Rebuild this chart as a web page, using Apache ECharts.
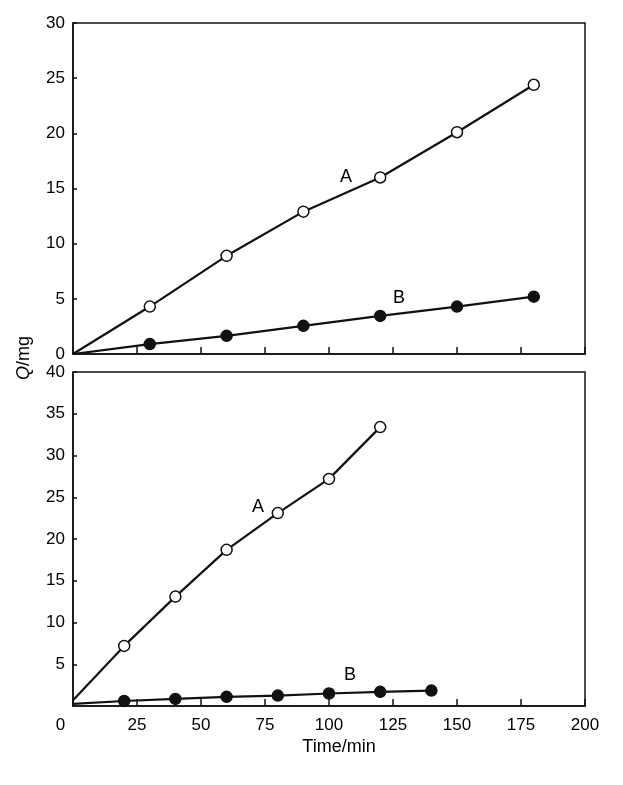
<!DOCTYPE html>
<html><head><meta charset="utf-8">
<script src="https://cdn.jsdelivr.net/npm/echarts@6/dist/echarts.min.js"></script>
<style>html,body{margin:0;padding:0;background:#fff}#c{width:623px;height:785px}</style>
</head><body><div id="c"></div>
<script>
// Top panel data
const topTime = [0, 30, 60, 90, 120, 150, 180];
const topA = [0, 4.3, 8.9, 12.9, 16.0, 20.1, 24.4];
const topB = [0, 0.9, 1.65, 2.55, 3.45, 4.3, 5.2];
// Bottom panel data
const botTimeA = [0, 20, 40, 60, 80, 100, 120];
const botA = [0.7, 7.2, 13.1, 18.7, 23.1, 27.2, 33.4];
const botTimeB = [0, 20, 40, 60, 80, 100, 120, 140];
const botB = [0.25, 0.6, 0.85, 1.1, 1.25, 1.5, 1.7, 1.85];
// Tick labels
const xTicks = [0, 25, 50, 75, 100, 125, 150, 175, 200];
const seriesNames = ['A', 'B'];

const FONT = 'Liberation Sans, Arial, sans-serif';
const INK = '#111';

function pts(xs, ys) {
  return xs.map((x, i) => (x === 0 ? { value: [x, ys[i]], symbol: 'none' } : [x, ys[i]]));
}
function lineSeries(name, xs, ys, open, gi) {
  return {
    name: name, type: 'line', xAxisIndex: gi, yAxisIndex: gi,
    data: pts(xs, ys),
    symbol: 'circle', symbolSize: 11,
    lineStyle: { color: INK, width: 2.2 },
    itemStyle: { color: open ? '#fff' : INK, borderColor: INK, borderWidth: 1.5 },
    z: open ? 3 : 4, animation: false
  };
}
function tag(text, x, y, gi) {
  return {
    type: 'scatter', xAxisIndex: gi, yAxisIndex: gi, symbolSize: 0,
    data: [[x, y]], silent: true, animation: false,
    itemStyle: { opacity: 1 },
    label: { show: true, position: 'inside', formatter: text, color: '#000',
      fontFamily: FONT, fontSize: 18, opacity: 1 }
  };
}
const xBase = {
  type: 'value', min: xTicks[0], max: xTicks[xTicks.length - 1], interval: 25,
  axisLine: { lineStyle: { color: INK, width: 1.5 } },
  axisTick: { inside: true, length: 7, lineStyle: { color: INK, width: 1.5 } },
  splitLine: { show: false }
};
const yBase = {
  type: 'value', interval: 5,
  axisLine: { show: true, lineStyle: { color: INK, width: 1.5 } },
  axisTick: { show: true, inside: true, length: 4, lineStyle: { color: INK, width: 1.5 } },
  splitLine: { show: false },
  axisLabel: { color: '#000', fontFamily: FONT, fontSize: 17, margin: 8 }
};

const chart = echarts.init(document.getElementById('c'));
chart.setOption({
  backgroundColor: '#fff',
  animation: false,
  grid: [
    { left: 73, right: 38, top: 23, height: 331, show: true, borderColor: INK, borderWidth: 1.5, containLabel: false },
    { left: 73, right: 38, top: 372, height: 334, show: true, borderColor: INK, borderWidth: 1.5, containLabel: false }
  ],
  xAxis: [
    Object.assign({}, xBase, { gridIndex: 0, axisLabel: { show: false } }),
    Object.assign({}, xBase, { gridIndex: 1,
      axisLabel: { color: '#000', fontFamily: FONT, fontSize: 17, margin: 11,
        formatter: v => (v === 0 ? '{z|0}' : String(v)),
        rich: { z: { fontFamily: FONT, fontSize: 17, color: '#000', padding: [0, 25, 0, 0] } } } })
  ],
  yAxis: [
    Object.assign({}, yBase, { gridIndex: 0, min: 0, max: 30 }),
    Object.assign({}, yBase, { gridIndex: 1, min: 0, max: 40,
      axisLabel: Object.assign({}, yBase.axisLabel, { showMinLabel: false }) })
  ],
  graphic: [
    { type: 'text', x: 24, y: 358, rotation: Math.PI / 2,
      style: { text: '{q|Q}/mg', fill: '#000', font: '18px ' + FONT, align: 'center', verticalAlign: 'middle',
        rich: { q: { fontStyle: 'italic', fontSize: 18, fontFamily: FONT, fill: '#000' } } } },
    { type: 'text', x: 339, y: 747,
      style: { text: 'Time/min', fill: '#000', font: '18px ' + FONT, align: 'center', verticalAlign: 'middle' } }
  ],
  series: [
    lineSeries(seriesNames[0], topTime, topA, true, 0),
    lineSeries(seriesNames[1], topTime, topB, false, 0),
    lineSeries(seriesNames[0], botTimeA, botA, true, 1),
    lineSeries(seriesNames[1], botTimeB, botB, false, 1),
    tag(seriesNames[0], 106.6, 16.0, 0),
    tag(seriesNames[1], 127.3, 5.1, 0),
    tag(seriesNames[0], 72.3, 23.8, 1),
    tag(seriesNames[1], 108.2, 3.7, 1)
  ]
});
</script>
</body></html>
